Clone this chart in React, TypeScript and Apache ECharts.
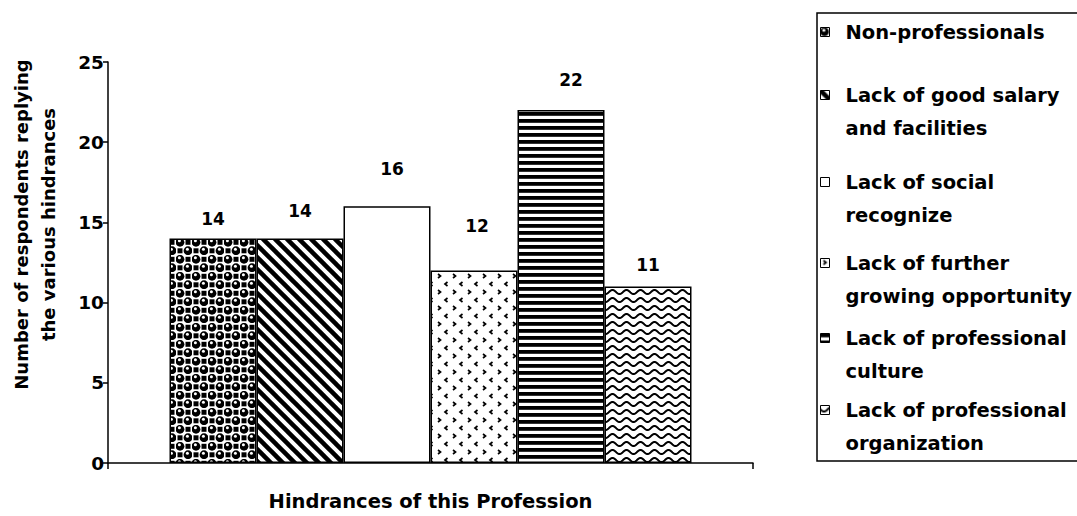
import React, { useEffect, useRef } from 'react';
import * as echarts from 'echarts';

const categories = [''];
const seriesNames = [
  'Non-professionals',
  'Lack of good salary\nand facilities',
  'Lack of social\nrecognize',
  'Lack of further\ngrowing opportunity',
  'Lack of professional\nculture',
  'Lack of professional\norganization',
];
const seriesValues = [14, 14, 16, 12, 22, 11];
const yMin = 0;
const yMax = 25;
const yInterval = 5;
const xAxisTitle = 'Hindrances of this Profession';
const yAxisTitle = 'Number of respondents replying\nthe various hindrances';

// label nudges (style)
const labelOffsets = [
  [0, -9],
  [0, -17],
  [5, -27],
  [3, -35],
  [10, -20],
  [0, -12],
];
// vertical centre of each legend entry's first line (style)
const legendFirstLine = [32, 95, 182, 263, 338, 410];
const LEGEND_LH = 33;

const FONT = '"DejaVu Sans", sans-serif';

function makeCanvas(w: number, h: number, draw: (ctx: CanvasRenderingContext2D) => void) {
  const c = document.createElement('canvas');
  c.width = w;
  c.height = h;
  const ctx = c.getContext('2d') as CanvasRenderingContext2D;
  ctx.fillStyle = '#fff';
  ctx.fillRect(0, 0, w, h);
  ctx.fillStyle = '#000';
  ctx.strokeStyle = '#000';
  draw(ctx);
  return c;
}

function pattern(c: HTMLCanvasElement) {
  return { image: c, repeat: 'repeat', imageWidth: c.width, imageHeight: c.height } as any;
}

function buildPatterns() {
  const balls = makeCanvas(16, 17, (ctx) => {
    const pts = [
      [4, 4.25],
      [12, 12.75],
    ];
    ctx.fillStyle = '#000';
    ctx.fillRect(9.5, 1.8, 5, 5);
    ctx.fillRect(1.5, 10.3, 5, 5);
    pts.forEach(([x, y]) => {
      ctx.fillStyle = '#000';
      ctx.beginPath();
      ctx.arc(x, y, 4.4, 0, Math.PI * 2);
      ctx.fill();
      ctx.fillStyle = '#fff';
      ctx.beginPath();
      ctx.arc(x - 0.6, y - 1.6, 1.5, 0, Math.PI * 2);
      ctx.fill();
    });
  });
  const diag = makeCanvas(12, 12, (ctx) => {
    ctx.lineWidth = 4.5;
    [-12, 0, 12].forEach((o) => {
      ctx.beginPath();
      ctx.moveTo(o - 2, -2);
      ctx.lineTo(o + 14, 14);
      ctx.stroke();
    });
  });
  const white = makeCanvas(4, 4, () => {});
  const chevrons = makeCanvas(15, 16, (ctx) => {
    ctx.lineWidth = 1.7;
    ctx.beginPath();
    ctx.moveTo(3, 2);
    ctx.lineTo(5.5, 4);
    ctx.lineTo(3, 6);
    ctx.stroke();
    ctx.beginPath();
    ctx.moveTo(12.5, 10);
    ctx.lineTo(10, 12);
    ctx.lineTo(12.5, 14);
    ctx.stroke();
  });
  const hstripes = makeCanvas(4, 7, (ctx) => {
    ctx.fillRect(0, 0, 4, 3.8);
  });
  const wavy = makeCanvas(14, 8, (ctx) => {
    ctx.lineWidth = 2;
    ctx.beginPath();
    for (let x = -1; x <= 15; x += 0.5) {
      const y = 4 + 2 * Math.sin((2 * Math.PI * x) / 14);
      if (x === -1) ctx.moveTo(x, y);
      else ctx.lineTo(x, y);
    }
    ctx.stroke();
  });
  return [balls, diag, white, chevrons, hstripes, wavy].map(pattern);
}

export default function App() {
  const ref = useRef<HTMLDivElement>(null);
  useEffect(() => {
    if (!ref.current) return;
    const chart = echarts.init(ref.current, null, { renderer: 'svg' });
    const fills = buildPatterns();
    const series = seriesNames.map((name, i) => ({
      name,
      type: 'bar',
      data: [seriesValues[i]],
      barWidth: 87,
      barGap: '0%',
      itemStyle: { color: fills[i], borderColor: '#000', borderWidth: 1.5 },
      label: {
        show: true,
        position: 'top',
        distance: 0,
        offset: labelOffsets[i],
        color: '#000',
        fontFamily: FONT,
        fontWeight: 'bold',
        fontSize: 17,
        lineHeight: 20,
        formatter: '{c}',
      },
    }));
    const legends = seriesNames.map((name, i) => {
      const multi = name.includes('\n');
      const top = multi
        ? legendFirstLine[i] - 1.5 * LEGEND_LH
        : legendFirstLine[i] - 0.5 * LEGEND_LH;
      return {
        data: [name],
        left: 820,
        top,
        padding: 0,
        itemWidth: 9,
        itemHeight: 9,
        icon: 'rect',
        itemStyle: { borderColor: '#000', borderWidth: 1 },
        selectedMode: false,
        formatter: (n: string) => (n.includes('\n') ? ' \n' + n : n),
        textStyle: {
          color: '#000',
          fontFamily: FONT,
          fontWeight: 'bold',
          fontSize: 19.5,
          lineHeight: LEGEND_LH,
          padding: [0, 0, 0, 11],
        },
      };
    });
    chart.setOption({
      animation: false,
      backgroundColor: '#fff',
      grid: { left: 101, right: 324, top: 62, bottom: 50, containLabel: false },
      legend: legends,
      graphic: [
        {
          type: 'rect',
          shape: { x: 817, y: 13, width: 270, height: 448 },
          style: { fill: 'none', stroke: '#000', lineWidth: 1.5 },
          silent: true,
        },
      ],
      xAxis: {
        type: 'category',
        data: categories,
        name: xAxisTitle,
        nameLocation: 'middle',
        nameGap: 28,
        nameTextStyle: { color: '#000', fontFamily: FONT, fontWeight: 'bold', fontSize: 19.5 },
        axisLine: { lineStyle: { color: '#000', width: 1.5 } },
        axisTick: { show: true, length: 6, lineStyle: { color: '#000', width: 1.5 } },
        axisLabel: { show: false },
        splitLine: { show: false },
      },
      yAxis: {
        type: 'value',
        min: yMin,
        max: yMax,
        interval: yInterval,
        name: yAxisTitle,
        nameLocation: 'middle',
        nameGap: 46,
        nameTextStyle: {
          color: '#000',
          fontFamily: FONT,
          fontWeight: 'bold',
          fontSize: 18,
          lineHeight: 27,
          padding: [0, 0, 0, 76],
        },
        axisLine: { show: true, lineStyle: { color: '#000', width: 1.5 } },
        axisTick: { show: true, length: 5, lineStyle: { color: '#000', width: 1.5 } },
        axisLabel: { color: '#000', fontFamily: FONT, fontWeight: 'bold', fontSize: 18.5, margin: 4 },
        splitLine: { show: false },
      },
      series,
    } as any);
    return () => chart.dispose();
  }, []);
  return (
    <div
      ref={ref}
      style={{ position: 'absolute', left: 0, top: 0, width: 1077, height: 516 }}
    />
  );
}
